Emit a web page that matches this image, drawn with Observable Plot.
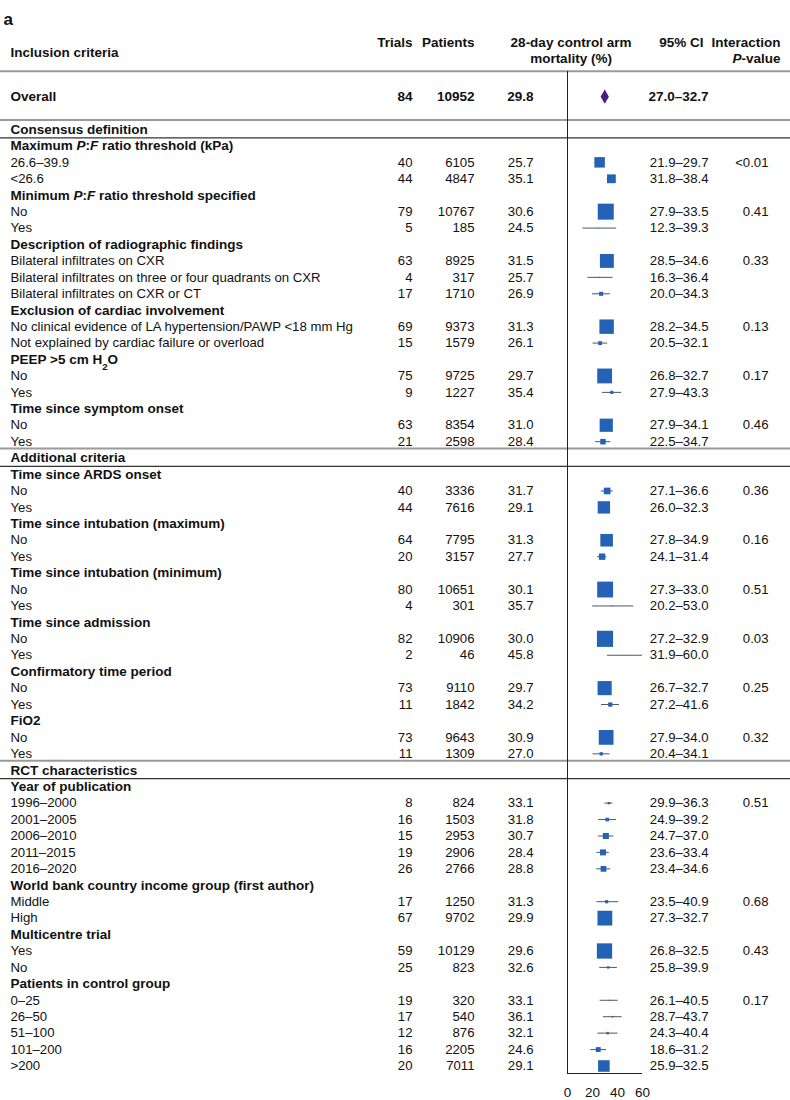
<!DOCTYPE html>
<html>
<head>
<meta charset="utf-8">
<script src="https://cdn.jsdelivr.net/npm/d3@7"></script>
<script src="https://cdn.jsdelivr.net/npm/@observablehq/plot@0.6"></script>
<style>
  body { margin: 0; background: #fff; }
  #chart { width: 790px; height: 1100px; }
</style>
</head>
<body>
<div id="chart"></div>
<script>
// ---------- DATA ----------
const panelLabel = "a";
const headerLabels = ["Inclusion criteria", "Trials", "Patients", "28-day control arm", "mortality (%)", "95% CI", "Interaction", "P-value"];

const overallLabel = "Overall";
const overallTrials = 84;
const overallPatients = 10952;
const overallMortality = 29.8;
const overallCiLow = 27.0;
const overallCiHigh = 32.7;

// S = section, G = group heading, I = subgroup row
const rowLabels = [
  "Consensus definition",
  "Maximum P:F ratio threshold (kPa)", "26.6–39.9", "<26.6",
  "Minimum P:F ratio threshold specified", "No", "Yes",
  "Description of radiographic findings", "Bilateral infiltrates on CXR", "Bilateral infiltrates on three or four quadrants on CXR", "Bilateral infiltrates on CXR or CT",
  "Exclusion of cardiac involvement", "No clinical evidence of LA hypertension/PAWP <18 mm Hg", "Not explained by cardiac failure or overload",
  "PEEP >5 cm H2O", "No", "Yes",
  "Time since symptom onset", "No", "Yes",
  "Additional criteria",
  "Time since ARDS onset", "No", "Yes",
  "Time since intubation (maximum)", "No", "Yes",
  "Time since intubation (minimum)", "No", "Yes",
  "Time since admission", "No", "Yes",
  "Confirmatory time period", "No", "Yes",
  "FiO2", "No", "Yes",
  "RCT characteristics",
  "Year of publication", "1996–2000", "2001–2005", "2006–2010", "2011–2015", "2016–2020",
  "World bank country income group (first author)", "Middle", "High",
  "Multicentre trial", "Yes", "No",
  "Patients in control group", "0–25", "26–50", "51–100", "101–200", ">200"
];
const rowKinds = [
  "S",
  "G","I","I",
  "G","I","I",
  "G","I","I","I",
  "G","I","I",
  "G","I","I",
  "G","I","I",
  "S",
  "G","I","I",
  "G","I","I",
  "G","I","I",
  "G","I","I",
  "G","I","I",
  "G","I","I",
  "S",
  "G","I","I","I","I","I",
  "G","I","I",
  "G","I","I",
  "G","I","I","I","I","I"
];
const trials = [
  null,
  null, 40, 44,
  null, 79, 5,
  null, 63, 4, 17,
  null, 69, 15,
  null, 75, 9,
  null, 63, 21,
  null,
  null, 40, 44,
  null, 64, 20,
  null, 80, 4,
  null, 82, 2,
  null, 73, 11,
  null, 73, 11,
  null,
  null, 8, 16, 15, 19, 26,
  null, 17, 67,
  null, 59, 25,
  null, 19, 17, 12, 16, 20
];
const patients = [
  null,
  null, 6105, 4847,
  null, 10767, 185,
  null, 8925, 317, 1710,
  null, 9373, 1579,
  null, 9725, 1227,
  null, 8354, 2598,
  null,
  null, 3336, 7616,
  null, 7795, 3157,
  null, 10651, 301,
  null, 10906, 46,
  null, 9110, 1842,
  null, 9643, 1309,
  null,
  null, 824, 1503, 2953, 2906, 2766,
  null, 1250, 9702,
  null, 10129, 823,
  null, 320, 540, 876, 2205, 7011
];
const mortality = [
  null,
  null, 25.7, 35.1,
  null, 30.6, 24.5,
  null, 31.5, 25.7, 26.9,
  null, 31.3, 26.1,
  null, 29.7, 35.4,
  null, 31.0, 28.4,
  null,
  null, 31.7, 29.1,
  null, 31.3, 27.7,
  null, 30.1, 35.7,
  null, 30.0, 45.8,
  null, 29.7, 34.2,
  null, 30.9, 27.0,
  null,
  null, 33.1, 31.8, 30.7, 28.4, 28.8,
  null, 31.3, 29.9,
  null, 29.6, 32.6,
  null, 33.1, 36.1, 32.1, 24.6, 29.1
];
const ciLow = [
  null,
  null, 21.9, 31.8,
  null, 27.9, 12.3,
  null, 28.5, 16.3, 20.0,
  null, 28.2, 20.5,
  null, 26.8, 27.9,
  null, 27.9, 22.5,
  null,
  null, 27.1, 26.0,
  null, 27.8, 24.1,
  null, 27.3, 20.2,
  null, 27.2, 31.9,
  null, 26.7, 27.2,
  null, 27.9, 20.4,
  null,
  null, 29.9, 24.9, 24.7, 23.6, 23.4,
  null, 23.5, 27.3,
  null, 26.8, 25.8,
  null, 26.1, 28.7, 24.3, 18.6, 25.9
];
const ciHigh = [
  null,
  null, 29.7, 38.4,
  null, 33.5, 39.3,
  null, 34.6, 36.4, 34.3,
  null, 34.5, 32.1,
  null, 32.7, 43.3,
  null, 34.1, 34.7,
  null,
  null, 36.6, 32.3,
  null, 34.9, 31.4,
  null, 33.0, 53.0,
  null, 32.9, 60.0,
  null, 32.7, 41.6,
  null, 34.0, 34.1,
  null,
  null, 36.3, 39.2, 37.0, 33.4, 34.6,
  null, 40.9, 32.7,
  null, 32.5, 39.9,
  null, 40.5, 43.7, 40.4, 31.2, 32.5
];
const pValues = [
  "",
  "", "<0.01", "",
  "", "0.41", "",
  "", "0.33", "", "",
  "", "0.13", "",
  "", "0.17", "",
  "", "0.46", "",
  "",
  "", "0.36", "",
  "", "0.16", "",
  "", "0.51", "",
  "", "0.03", "",
  "", "0.25", "",
  "", "0.32", "",
  "",
  "", "0.51", "", "", "", "",
  "", "0.68", "",
  "", "0.43", "",
  "", "0.17", "", "", "", ""
];
const axisTicks = [0, 20, 40, 60];

// ---------- TABLE ----------
const rows = rowLabels.map((label, i) => ({
  i, label, kind: rowKinds[i], trials: trials[i], patients: patients[i],
  mort: mortality[i], lo: ciLow[i], hi: ciHigh[i], p: pValues[i]
}));
const items = rows.filter(d => d.kind === "I");
const headings = rows.filter(d => d.kind !== "I");
const sections = rows.filter(d => d.kind === "S");
const lastRow = rows.slice(-1);
const OVERALL_ROW = -2;
const overall = [{i: OVERALL_ROW, label: overallLabel, trials: overallTrials, patients: overallPatients,
  mort: overallMortality, lo: overallCiLow, hi: overallCiHigh}];
const fmt = v => v.toFixed(1);
const ciText = d => `${fmt(d.lo)}–${fmt(d.hi)}`;

// ---------- LAYOUT ----------
const W = 790, H = 1100;
const mL = 567, mR = 148, mT = 71, mB = 27;
const colX = {label: 10, trials: 412, patients: 474, mort: 533, ci: 708, p: 768,
  hTrials: 412, hPatients: 474, hMort: 570.5, hCi: 703, hP: 780};
const dxOf = px => px - mL;
const FS = 13.5;   // headings / header
const FSR = 13.2;  // regular rows
const ink = "#111";

const textCol = (data, text, key, anchor, extra = {}) =>
  Plot.text(data, {y: "i", text, frameAnchor: "left", dx: dxOf(colX[key]), textAnchor: anchor,
    fontSize: FSR, fill: ink, ...extra});
const headText = (label, key, anchor, yPix, extra = {}) =>
  Plot.text([label], {text: d => d, frameAnchor: "top-left", dx: dxOf(colX[key]), dy: yPix - mT,
    textAnchor: anchor, fontSize: FS, fontWeight: "bold", fill: ink, ...extra});

const fullWidth = {insetLeft: -mL, insetRight: -mR};

const svg = Plot.plot({
  width: W, height: H,
  marginLeft: mL, marginRight: mR, marginTop: mT, marginBottom: mB,
  style: {fontFamily: "'Liberation Sans', Arial, sans-serif", fontSize: FS + "px", background: "white", color: ink, overflow: "visible"},
  x: {domain: [0, 60], axis: null},
  y: {domain: [0, 57], range: [129, 1065.5], axis: null},
  r: {type: "pow", exponent: 0.75, domain: [0, overallPatients], range: [0, 9.15]},
  marks: [
    // horizontal separators
    Plot.ruleY(overall, {y: "i", dy: -25.3, stroke: "#9a9a9a", strokeWidth: 2, ...fullWidth}),
    Plot.ruleY(sections, {y: "i", dy: -9.6, stroke: "#9a9a9a", strokeWidth: 2, ...fullWidth}),
    Plot.ruleY(sections, {y: "i", dy: 8.3, stroke: "#333", strokeWidth: 1.2, ...fullWidth}),
    // axis lines: vertical at 0, horizontal baseline below last row
    Plot.ruleX([0], {stroke: "#222", strokeWidth: 1}),
    Plot.ruleY(lastRow, {y: "i", dy: 7.5, stroke: "#222", strokeWidth: 1}),
    Plot.axisX({ticks: axisTicks, tickSize: 0, tickPadding: 14, fontSize: FS, label: null, fill: ink}),
    // forest
    Plot.ruleY(items, {y: "i", x1: "lo", x2: "hi", stroke: "#505560", strokeWidth: 1}),
    Plot.dot(items, {x: "mort", y: "i", r: "patients", symbol: "square", fill: "#2462b5"}),
    Plot.dot(overall, {x: "mort", y: "i", r: 4.35, symbol: "diamond", fill: "#4b1d7e"}),
    // headers
    headText(panelLabel, "label", "start", 12, {dx: 3 - mL, fontSize: 17}),
    headText(headerLabels[0], "label", "start", 47.3),
    headText(headerLabels[1], "hTrials", "end", 36.7),
    headText(headerLabels[2], "hPatients", "end", 36.7),
    headText(headerLabels[3], "hMort", "middle", 36.7),
    headText(headerLabels[4], "hMort", "middle", 53),
    headText(headerLabels[5], "hCi", "end", 36.7),
    headText(headerLabels[6], "hP", "end", 36.7),
    headText(headerLabels[7], "hP", "end", 53),
    // overall row
    textCol(overall, "label", "label", "start", {fontWeight: "bold", fontSize: FS}),
    textCol(overall, d => String(d.trials), "trials", "end", {fontWeight: "bold", fontSize: FS}),
    textCol(overall, d => String(d.patients), "patients", "end", {fontWeight: "bold", fontSize: FS}),
    textCol(overall, d => fmt(d.mort), "mort", "end", {fontWeight: "bold", fontSize: FS}),
    textCol(overall, ciText, "ci", "end", {fontWeight: "bold", fontSize: FS}),
    // rows
    textCol(headings, "label", "label", "start", {fontWeight: "bold", fontSize: FS}),
    textCol(items, "label", "label", "start"),
    textCol(items, d => String(d.trials), "trials", "end"),
    textCol(items, d => String(d.patients), "patients", "end"),
    textCol(items, d => fmt(d.mort), "mort", "end"),
    textCol(items, ciText, "ci", "end"),
    textCol(items.filter(d => d.p), "p", "p", "end")
  ]
});

// rich text: italic P:F, P-value; subscript in H2O
const NS = "http://www.w3.org/2000/svg";
svg.querySelectorAll("text").forEach(t => {
  const s = t.textContent;
  let parts = null;
  if (s.includes("P:F")) {
    const [a, b] = s.split("P:F");
    parts = [[a], ["P", "i"], [":"], ["F", "i"], [b]];
  } else if (s.includes("H2O")) {
    const [a, b] = s.split("H2O");
    parts = [[a + "H"], ["2", "sub"], ["O" + b]];
  } else if (s === "P-value") {
    parts = [["P", "i"], ["-value"]];
  }
  if (!parts) return;
  while (t.firstChild) t.removeChild(t.firstChild);
  for (const [txt, st] of parts) {
    const ts = document.createElementNS(NS, "tspan");
    ts.textContent = txt;
    if (st === "i") ts.setAttribute("font-style", "italic");
    if (st === "sub") { ts.setAttribute("baseline-shift", "sub"); ts.setAttribute("font-size", "0.72em"); }
    t.appendChild(ts);
  }
});

document.getElementById("chart").appendChild(svg);
</script>
</body>
</html>
